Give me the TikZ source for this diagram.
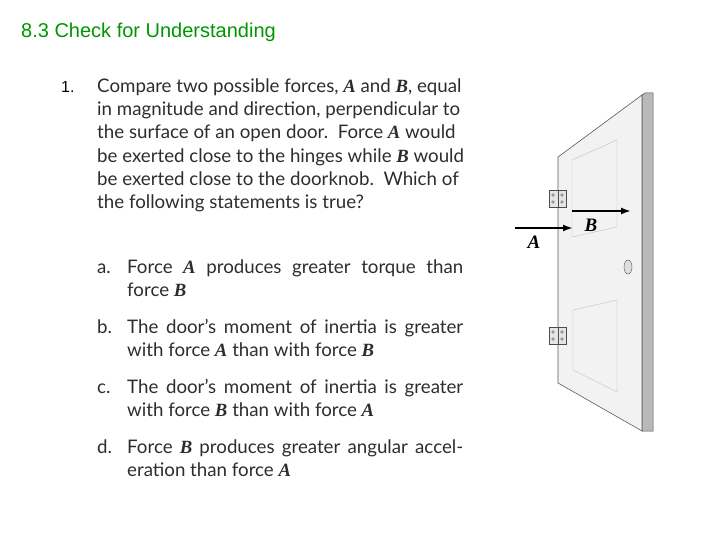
\documentclass[tikz,border=0pt]{standalone}
\usetikzlibrary{arrows.meta}
\usepackage{fontspec}
\setmainfont{Lato}
\newfontfamily\arialf{Liberation Sans}
\newfontfamily\timesf{Liberation Serif}
\newcommand{\FA}{{\timesf\bfseries\itshape A}}
\newcommand{\FB}{{\timesf\bfseries\itshape B}}
\definecolor{txt}{RGB}{45,45,45}
\definecolor{ttl}{RGB}{0,150,0}
\begin{document}
\begin{tikzpicture}[x=1pt,y=-1pt,
  ln/.style={anchor=base west,inner sep=0,text=txt,font=\fontsize{18.7}{20}\selectfont},
  doorline/.style={draw=gray!70!black,line width=0.6pt}]
\useasboundingbox (0,0) rectangle (720,540);
\node[anchor=base west,inner sep=0,text=ttl,font=\arialf\fontsize{20}{22}\selectfont] (title) at (21,38) {8.3 Check for Understanding};
\node[anchor=base west,inner sep=0,font=\arialf\fontsize{16}{18}\selectfont] (num) at (61,93) {1.};
\foreach \t/\y [count=\i] in {
 {Compare two possible forces, \FA{} and \FB, equal}/93,
 {in magnitude and direction, perpendicular to}/116,
 {the surface of an open door.\ \ Force \FA{} would}/139,
 {be exerted close to the hinges while \FB{} would}/163,
 {be exerted close to the doorknob.\ \ Which of}/186,
 {the following statements is true?}/209}
 \node[ln] (q\i) at (97,\y) {\t};
\foreach \l/\y [count=\i] in {a./273,b./333,c./393,d./453}
 \node[ln] (l\i) at (97,\y) {\l};
\node[ln] (a1) at (127,273) {\makebox[336pt][s]{Force \FA{} produces greater torque than}};
\node[ln] (a2) at (127,296) {force \FB};
\node[ln] (b1) at (127,333) {\makebox[336pt][s]{The door’s moment of inertia is greater}};
\node[ln] (b2) at (127,356) {with force \FA{} than with force \FB};
\node[ln] (c1) at (127,393) {\makebox[336pt][s]{The door’s moment of inertia is greater}};
\node[ln] (c2) at (127,416) {with force \FB{} than with force \FA};
\node[ln] (d1) at (127,453) {\makebox[336pt][s]{Force \FB{} produces greater angular accel-}};
\node[ln] (d2) at (127,476) {eration than force \FA};
% door
\fill[gray!55,draw=gray!60!black,line width=0.5pt] (642,95) -- (645,93) -- (653,93) -- (653,431) -- (642,431) -- cycle;
\fill[gray!10,doorline] (558,157) -- (642,95) -- (642,431) -- (558,383) -- cycle;
\draw[draw=gray!50] (572,160) -- (617,140) -- (617,227) -- (572,237) -- cycle;
\draw[draw=gray!50] (573,310) -- (617,300) -- (617,392) -- (573,370) -- cycle;
% hinges
\foreach \y in {190,327}{
 \draw[fill=gray!20,draw=gray!60!black,line width=0.4pt] (549,\y) rectangle (566,\y+17);
 \draw[gray!60!black,line width=0.4pt] (558,\y) -- (558,\y+17);
 \foreach \dx/\dy in {553/5,553/12,562/5,562/12}
  \draw[gray!60!black,line width=0.3pt] (\dx,\y+\dy) circle (1.3);
}
\draw[fill=gray!25,draw=gray!60!black] (628,267) ellipse (4 and 7);
% arrows
\coordinate (As) at (515,228); \coordinate (Ae) at (573,228);
\coordinate (Bs) at (572,211); \coordinate (Be) at (631,211);
\draw[line width=1.8pt,-{Latex[length=10pt,width=7pt]}] (As) -- (Ae);
\draw[line width=1.8pt,-{Latex[length=10pt,width=7pt]}] (Bs) -- (Be);
\node[font=\timesf\bfseries\itshape\fontsize{19}{21}\selectfont] (Al) at (534,242) {A};
\node[font=\timesf\bfseries\itshape\fontsize{19}{21}\selectfont] (Bl) at (591,225) {B};
\end{tikzpicture}
\end{document}
